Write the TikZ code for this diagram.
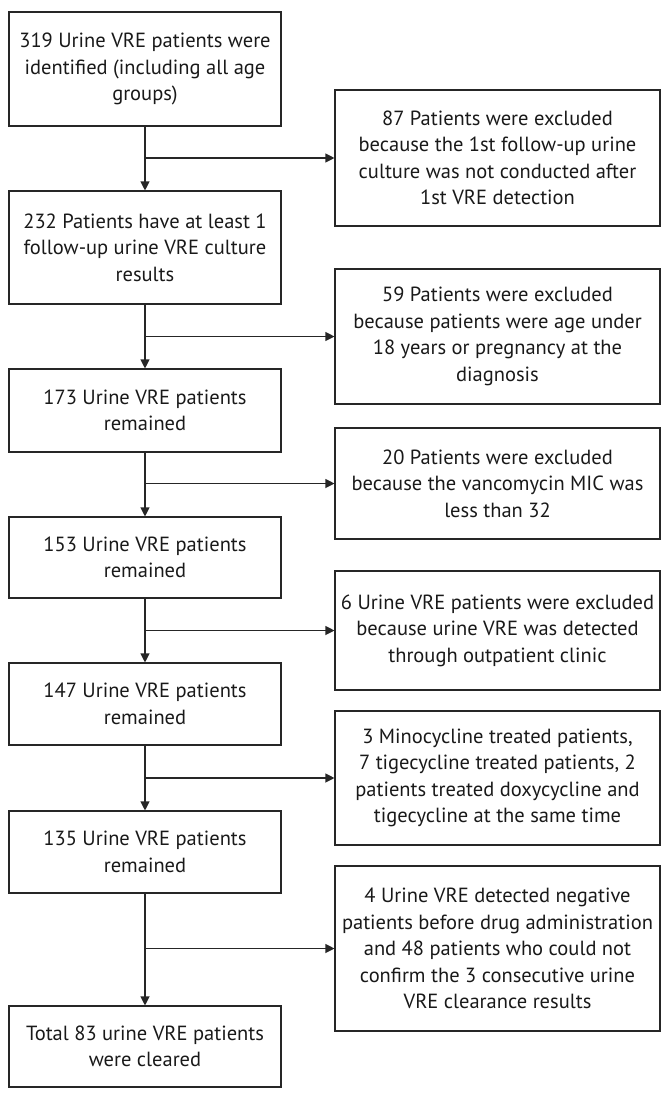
\documentclass[tikz,border=0pt]{standalone}
\usepackage{fontspec}
\setmainfont{PT Sans}
\usetikzlibrary{arrows.meta}
\begin{document}
\begin{tikzpicture}[x=1pt,y=-1pt,
  box/.style={draw=black!85,line width=1.1pt,align=center,inner sep=0pt,
    font=\fontsize{20.5}{26.5}\selectfont,text=black!90},
  lbox/.style={box,minimum width=272pt},
  rbox/.style={box,minimum width=325pt},
  arr/.style={draw=black!85,line width=1.1pt,-{Triangle[length=9pt,width=9pt]}}]
\useasboundingbox (0,0) rectangle (668,1098);
\node[lbox,minimum height=114pt] (b1) at (145,69) {319 Urine VRE patients were\\identified (including all age\\groups)};
\node[lbox,minimum height=113pt] (b2) at (145,247.5) {232 Patients have at least 1\\follow-up urine VRE culture\\results};
\node[lbox,minimum height=83pt] (b3) at (145,410.5) {173 Urine VRE patients\\remained};
\node[lbox,minimum height=81pt] (b4) at (145,557.5) {153 Urine VRE patients\\remained};
\node[lbox,minimum height=82pt] (b5) at (145,704) {147 Urine VRE patients\\remained};
\node[lbox,minimum height=82pt] (b6) at (145,852) {135 Urine VRE patients\\remained};
\node[lbox,minimum height=81pt] (b7) at (145,1046.5) {Total 83 urine VRE patients\\were cleared};
\node[rbox,minimum height=136pt] (r1) at (497.5,158) {87 Patients were excluded\\because the 1st follow-up urine\\culture was not conducted after\\1st VRE detection};
\node[rbox,minimum height=135pt] (r2) at (497.5,336.5) {59 Patients were excluded\\because patients were age under\\18 years or pregnancy at the\\diagnosis};
\node[rbox,minimum height=111pt] (r3) at (497.5,483.5) {20 Patients were excluded\\because the vancomycin MIC was\\less than 32};
\node[rbox,minimum height=119pt] (r4) at (497.5,630.5) {6 Urine VRE patients were excluded\\because urine VRE was detected\\through outpatient clinic};
\node[rbox,minimum height=134pt] (r5) at (497.5,778) {3 Minocycline treated patients,\\7 tigecycline treated patients, 2\\patients treated doxycycline and\\tigecycline at the same time};
\node[rbox,minimum height=165pt] (r6) at (497.5,948.5) {4 Urine VRE detected negative\\patients before drug administration\\and 48 patients who could not\\confirm the 3 consecutive urine\\VRE clearance results};
\foreach \a/\b/\r in {b1/b2/r1,b2/b3/r2,b3/b4/r3,b4/b5/r4,b5/b6/r5,b6/b7/r6}{
  \coordinate (j\r) at (\a.south |- \r.west);
  \draw[arr] (\a.south) -- (\b.north);
  \draw[arr] (j\r) -- (\r.west);
}
\end{tikzpicture}
\end{document}
